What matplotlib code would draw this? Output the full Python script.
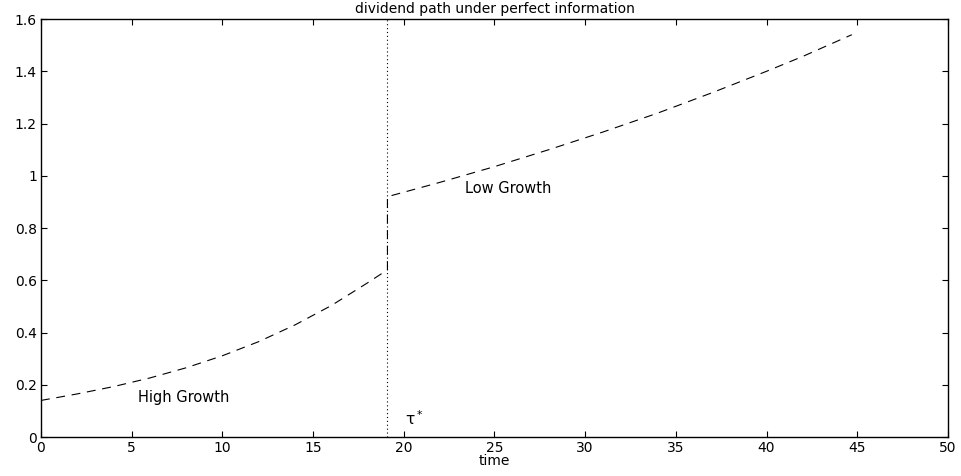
import matplotlib
matplotlib.use("Agg")
import matplotlib.pyplot as plt

plt.rcParams["font.family"] = ["DejaVu Sans"]

# dividend path
t_high = [0, 2, 4, 6, 8, 10, 12, 14, 16, 18, 19.1]
d_high = [0.14, 0.165, 0.193, 0.226, 0.265, 0.311, 0.365, 0.429, 0.503, 0.590, 0.64]
t_low = [19.1, 22, 25, 28, 31, 34, 37, 40, 42, 44.7]
d_low = [0.92, 0.975, 1.035, 1.10, 1.168, 1.24, 1.318, 1.40, 1.457, 1.54]
tau = 19.1

fig = plt.figure(figsize=(9.62, 4.76), dpi=100)
ax = fig.add_axes([0.0426, 0.0819, 0.9428, 0.8781])

t_all = t_high + t_low
d_all = d_high + d_low
ax.plot(t_all, d_all, color="black", linewidth=0.8, dashes=(8, 6))
ax.plot([tau, tau], [0, 1.6], color="black", linewidth=0.8, linestyle=(0, (1, 2.5)))

ax.text(5.35, 0.153, "High Growth", fontsize=10.5, va="center", ha="left")
ax.text(23.4, 0.953, "Low Growth", fontsize=10.5, va="center", ha="left")
ax.text(20.05, 0.07, r"$\mathregular{τ^*}$", fontsize=11, va="center", ha="left")

ax.set_xlim(0, 50)
ax.set_ylim(0, 1.6)
ax.set_xticks(range(0, 51, 5))
ax.set_yticks([0, 0.2, 0.4, 0.6, 0.8, 1, 1.2, 1.4, 1.6])
ax.set_yticklabels(["0", "0.2", "0.4", "0.6", "0.8", "1", "1.2", "1.4", "1.6"])
ax.tick_params(direction="in", top=True, right=True, length=4, width=0.8,
               labelsize=10, pad=3)
for s in ax.spines.values():
    s.set_linewidth(1.0)

ax.set_title("dividend path under perfect information", fontsize=10, pad=4)
ax.set_xlabel("time", fontsize=10, labelpad=-1)

fig.savefig("out.png", dpi=100)
